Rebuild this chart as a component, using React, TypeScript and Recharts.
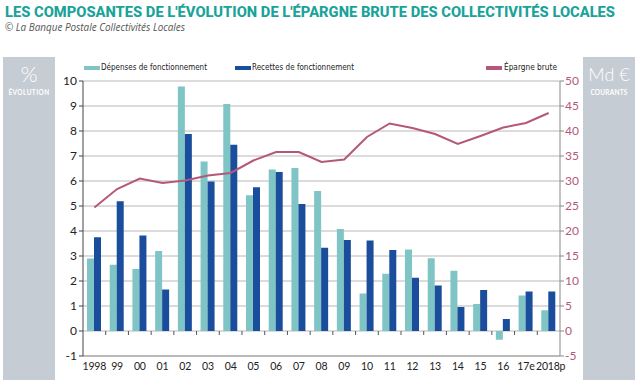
import React from "react";
import { Bar, CartesianGrid, ComposedChart, Line, XAxis, YAxis } from "recharts";

const years = ["1998", "99", "00", "01", "02", "03", "04", "05", "06", "07", "08", "09", "10", "11", "12", "13", "14", "15", "16", "17e", "2018p"];
const depenses = [2.9, 2.65, 2.48, 3.2, 9.78, 6.78, 9.08, 5.43, 6.46, 6.52, 5.6, 4.08, 1.5, 2.29, 3.26, 2.91, 2.41, 1.08, -0.35, 1.42, 0.83];
const recettes = [3.75, 5.19, 3.82, 1.66, 7.88, 5.98, 7.45, 5.75, 6.36, 5.08, 3.33, 3.64, 3.62, 3.24, 2.13, 1.82, 0.96, 1.64, 0.48, 1.58, 1.58];
const epargne = [24.7, 28.4, 30.5, 29.6, 30.1, 31.1, 31.6, 34.1, 35.8, 35.8, 33.8, 34.3, 38.8, 41.5, 40.6, 39.4, 37.4, 39.0, 40.7, 41.6, 43.6];

const leftTicks = [-1, 0, 1, 2, 3, 4, 5, 6, 7, 8, 9, 10];
const rightTicks = [-5, 0, 5, 10, 15, 20, 25, 30, 35, 40, 45, 50];

const data = years.map((year, i) => ({
    year,
    dep: depenses[i],
    rec: recettes[i],
    ep: epargne[i],
}));

// plot box
const W = 640;
const H = 389;
const PL = 83;
const PR = 560;
const PT = 81;
const PB = 356;
const BAND = (PR - PL) / years.length;
const Y_ZERO = PT + ((10 - 0) / 11) * (PB - PT);

const TEAL = "#7fc5c6";
const BLUE = "#1a4d9b";
const PINK = "#b5577b";
const PANEL = "#c6ccd3";
const FONT = "Lato, 'Open Sans', sans-serif";
const NARROW = "'Liberation Sans Narrow', 'DejaVu Sans Condensed', sans-serif";

const YearTick = ({ x, y, payload, index }: any) => (
    <g>
        {index < years.length - 1 && (
            <line x1={x + BAND / 2} x2={x + BAND / 2} y1={Y_ZERO} y2={Y_ZERO + 4} stroke="#555" strokeWidth={1} />
        )}
        <text
            x={index === years.length - 1 ? x + 2 : x}
            y={y + 14}
            textAnchor="middle"
            fontSize={10.5}
            letterSpacing={-0.2}
            fill="#222"
            fontFamily={FONT}
        >
            {payload.value}
        </text>
    </g>
);

export default function App() {
    return (
        <div style={{ position: "absolute", left: 0, top: 0, width: W, height: H, background: "#fff", overflow: "hidden" }}>
            <svg width={W} height={H} style={{ position: "absolute", left: 0, top: 0 }}>
                <text x={5} y={17} fontSize={15} fontWeight={800} fill="#1aa39a" fontFamily="Roboto, 'Open Sans', sans-serif" textLength={610} lengthAdjust="spacingAndGlyphs">
                    LES COMPOSANTES DE L'ÉVOLUTION DE L'ÉPARGNE BRUTE DES COLLECTIVITÉS LOCALES
                </text>
                <text x={5} y={31} fontSize={10} fontStyle="italic" fill="#555" fontFamily="'Open Sans', sans-serif" textLength={180} lengthAdjust="spacingAndGlyphs">
                    © La Banque Postale Collectivités Locales
                </text>

                <rect x={3} y={57} width={52} height={323} fill={PANEL} />
                <text x={29} y={82} fontSize={22} fontWeight={300} fill="#fff" textAnchor="middle" fontFamily={FONT}>%</text>
                <text x={29} y={95} fontSize={6.5} fontWeight={700} fill="#fff" textAnchor="middle" fontFamily={FONT} letterSpacing={0.4}>ÉVOLUTION</text>

                <rect x={583} y={57} width={52} height={323} fill={PANEL} />
                <text x={609} y={81} fontSize={18} fontWeight={300} fill="#fff" textAnchor="middle" fontFamily={FONT}>Md €</text>
                <text x={609} y={95} fontSize={6.5} fontWeight={700} fill="#fff" textAnchor="middle" fontFamily={FONT} letterSpacing={0.2}>COURANTS</text>

                <rect x={84} y={66} width={16} height={4} fill={TEAL} />
                <text x={101} y={70} fontSize={8.5} fill="#222" fontFamily={NARROW} textLength={106} lengthAdjust="spacingAndGlyphs">Dépenses de fonctionnement</text>
                <rect x={235} y={66} width={16} height={4} fill={BLUE} />
                <text x={252} y={70} fontSize={8.5} fill="#222" fontFamily={NARROW} textLength={102} lengthAdjust="spacingAndGlyphs">Recettes de fonctionnement</text>
                <rect x={486} y={66} width={16} height={4} fill={PINK} />
                <text x={504} y={70} fontSize={8.5} fill="#222" fontFamily={NARROW} textLength={53} lengthAdjust="spacingAndGlyphs">Épargne brute</text>
            </svg>

            <div style={{ position: "absolute", left: 0, top: 0 }}>
                <ComposedChart
                    width={W}
                    height={H}
                    data={data}
                    margin={{ top: PT, right: 0, bottom: 0, left: 0 }}
                    barGap={0}
                >
                    <CartesianGrid vertical={false} stroke="#b8b8b8" yAxisId="left" />
                    <XAxis
                        dataKey="year"
                        height={H - PB}
                        axisLine={{ stroke: "#999" }}
                        tickLine={false}
                        tickSize={0}
                        tickMargin={0}
                        interval={0}
                        tick={<YearTick />}
                    />
                    <YAxis
                        yAxisId="left"
                        width={PL}
                        domain={[-1, 10]}
                        ticks={leftTicks}
                        interval={0}
                        axisLine={{ stroke: "#444" }}
                        tickLine={{ stroke: "#444" }}
                        tickSize={4}
                        tickMargin={2}
                        tick={{ fill: "#222", fontSize: 12, fontFamily: FONT }}
                    />
                    <YAxis
                        yAxisId="right"
                        orientation="right"
                        width={W - PR}
                        domain={[-5, 50]}
                        ticks={rightTicks}
                        interval={0}
                        axisLine={{ stroke: "#888" }}
                        tickLine={{ stroke: "#888" }}
                        tickSize={4}
                        tickMargin={1}
                        tick={{ fill: PINK, fontSize: 12, fontFamily: FONT }}
                    />
                    <Bar yAxisId="left" dataKey="dep" fill={TEAL} barSize={7} isAnimationActive={false} />
                    <Bar yAxisId="left" dataKey="rec" fill={BLUE} barSize={7} isAnimationActive={false} />
                    <Line
                        yAxisId="right"
                        type="linear"
                        dataKey="ep"
                        stroke={PINK}
                        strokeWidth={2}
                        dot={false}
                        activeDot={false}
                        isAnimationActive={false}
                    />
                </ComposedChart>
            </div>
        </div>
    );
}
